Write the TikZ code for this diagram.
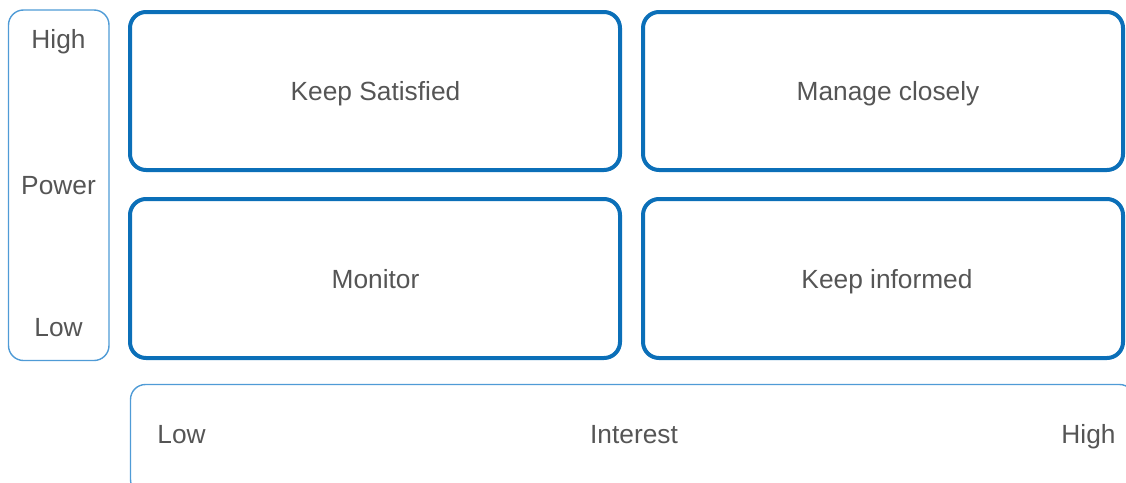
\documentclass[tikz,border=0pt]{standalone}
\usepackage{fontspec}
\setmainfont{Liberation Sans}
\definecolor{boxblue}{HTML}{0B6FB8}
\definecolor{axisblue}{HTML}{4F9BD6}
\definecolor{txt}{HTML}{555555}
\begin{document}
\begin{tikzpicture}[x=1pt,y=-1pt,
  quad/.style={draw=boxblue,line width=4pt,rounded corners=16pt,inner sep=0pt},
  axisbox/.style={draw=axisblue,line width=1.4pt,rounded corners=15pt,inner sep=0pt},
  lab/.style={font=\fontsize{26.3}{30}\selectfont,text=txt,inner sep=0pt,anchor=base}]
\useasboundingbox (0,0) rectangle (1126,482);
\clip (0,0) rectangle (1126,482);
\node[axisbox,minimum width=100.5pt,minimum height=350.5pt] (power) at (58.75,185.25) {};
\node[lab] (phigh) at (58.5,48) {High};
\node[lab] (pmid) at (58.5,194.3) {Power};
\node[lab] (plow) at (58.5,336.5) {Low};
\node[quad,minimum width=490pt,minimum height=158pt] (ks) at (375,91) {};
\node[quad,minimum width=480pt,minimum height=158pt] (mc) at (883,91) {};
\node[quad,minimum width=490pt,minimum height=159pt] (mo) at (375,278.5) {};
\node[quad,minimum width=480pt,minimum height=159pt] (ki) at (883,278.5) {};
\node[lab] (ksl) at (375.5,100) {Keep Satisfied};
\node[lab] (mcl) at (888,100) {Manage closely};
\node[lab] (mol) at (375.5,288.3) {Monitor};
\node[lab] (kil) at (887,288.3) {Keep informed};
\node[axisbox,minimum width=1004pt,minimum height=110pt] (interest) at (632.5,439.5) {};
\node[lab] (ilow) at (181.5,443.3) {Low};
\node[lab] (imid) at (634,443.3) {Interest};
\node[lab] (ihigh) at (1088.5,443.3) {High};
\end{tikzpicture}
\end{document}
